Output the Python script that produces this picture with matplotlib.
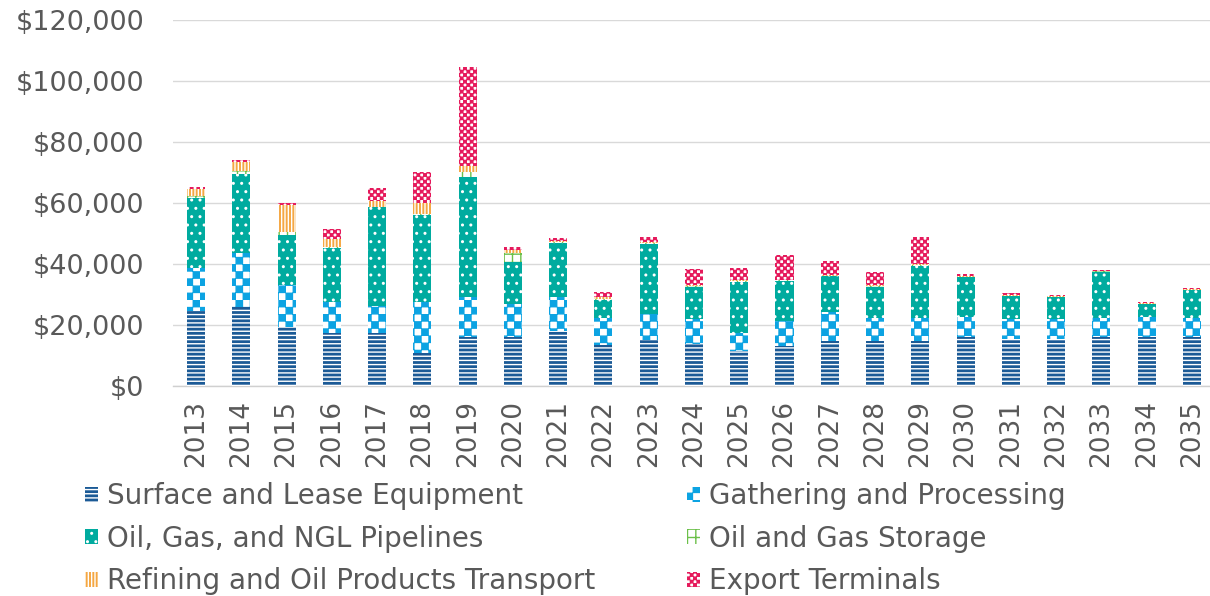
import numpy as np
import matplotlib
matplotlib.use("Agg")
import matplotlib.pyplot as plt
from matplotlib import hatch as mhatch
from matplotlib.path import Path
from matplotlib.patches import Patch

# ---------------- data ----------------
years = [str(y) for y in range(2013, 2036)]
surface = [24600, 25800, 19400, 17300, 17500, 10700, 16200, 16000, 18100, 13400, 15100, 13800,
           11500, 13100, 14900, 14900, 14900, 16000, 15300, 15300, 16000, 16200, 16200]
gathering = [14200, 17700, 13700, 10300, 8800, 16900, 12900, 10800, 11200, 8800, 8400, 8200,
             5800, 8200, 9500, 7300, 7300, 6500, 6600, 6600, 6200, 6500, 6000]
pipelines = [22700, 26000, 16400, 17500, 32300, 28500, 39500, 14000, 17700, 6000, 23100, 10600,
             16900, 13200, 11700, 10400, 17300, 13300, 7600, 7200, 15300, 4200, 9300]
storage = [700, 1000, 1000, 400, 200, 300, 1600, 2700, 200, 200, 200, 200,
           100, 100, 100, 100, 100, 100, 100, 100, 100, 100, 100]
refining = [2400, 3000, 8900, 2600, 2000, 3500, 1900, 1000, 500, 800, 400, 300,
            300, 300, 300, 300, 300, 300, 300, 300, 200, 200, 200]
export = [600, 600, 700, 3400, 4000, 10400, 32400, 1000, 700, 1700, 1800, 5200,
          4000, 8200, 4400, 4500, 9100, 600, 500, 500, 200, 500, 300]

labels = ["Surface and Lease Equipment", "Gathering and Processing",
          "Oil, Gas, and NGL Pipelines", "Oil and Gas Storage",
          "Refining and Oil Products Transport", "Export Terminals"]
yticks = [0, 20000, 40000, 60000, 80000, 100000, 120000]

HATCH_LW = 1.0  # points
plt.rcParams['hatch.linewidth'] = HATCH_LW


# ---------------- custom checkerboard hatch (uses the 'O' character) ----------------
class CheckerHatch(mhatch.HatchPatternBase):
    def __init__(self, hatch, density):
        self.n = hatch.count('O')
        self.num_vertices = 2 * self.n * self.n * 5

    def set_vertices_and_codes(self, vertices, codes):
        n = self.n
        c = 1.0 / (2 * n)
        shrink = 0.6 * plt.rcParams['hatch.linewidth'] / 72.0  # partly offset stroke width
        a, b = shrink / 2, c - shrink / 2
        sq = np.array([[a, a], [b, a], [b, b], [a, b], [a, a]], dtype=float)
        parts = []
        for i in range(n):
            for j in range(n):
                parts.append(sq + [2 * i * c, 2 * j * c])
                parts.append(sq + [(2 * i + 1) * c, (2 * j + 1) * c])
        vertices[:] = np.concatenate(parts)
        codes[:] = np.tile([Path.MOVETO, Path.LINETO, Path.LINETO, Path.LINETO,
                            Path.CLOSEPOLY], 2 * n * n)


mhatch._hatch_types = [t for t in mhatch._hatch_types
                       if t is not mhatch.LargeCircles] + [CheckerHatch]

plt.rcParams['font.family'] = ['DejaVu Sans']

TEXT = '#595959'
styles = [
    dict(facecolor='#1b5a96', edgecolor='white', hatch='----'),
    dict(facecolor='white', edgecolor='#0ca3e2', hatch='O' * 7),
    dict(facecolor='#00ab9f', edgecolor='white', hatch='..'),
    dict(facecolor='white', edgecolor='#6cc04a', hatch='++'),
    dict(facecolor='#f5a742', edgecolor='white', hatch='|||||'),
    dict(facecolor='white', edgecolor='#e5195b', hatch='O' * 15),
]
series = [surface, gathering, pipelines, storage, refining, export]

W, H = 1210, 596
fig = plt.figure(figsize=(W / 100, H / 100), dpi=100)
ax = fig.add_axes([173.4 / W, (H - 386) / H, (W - 173.4) / W, 366 / H])

x = np.arange(len(years))
bottom = np.zeros(len(years))
for vals, st in zip(series, styles):
    ax.bar(x, vals, width=0.40, bottom=bottom, linewidth=0, zorder=3, **st)
    bottom += np.array(vals)

ax.set_xlim(-0.5, 22.4)
ax.set_ylim(0, 120000)
ax.set_yticks(yticks)
ax.set_yticklabels([f"${v:,.0f}" for v in yticks])
ax.set_xticks(x)
ax.set_xticklabels(years, rotation=90)
ax.tick_params(axis='both', length=0, labelsize=19, labelcolor=TEXT)
ax.tick_params(axis='y', labelsize=19.5, pad=21)
ax.tick_params(axis='x', pad=10)
ax.grid(axis='y', color='#d9d9d9', linewidth=1.0, zorder=0)
for s in ['top', 'right', 'left']:
    ax.spines[s].set_visible(False)
ax.spines['bottom'].set_color('#d0d0d0')
ax.spines['bottom'].set_linewidth(1.0)

order = [0, 2, 4, 1, 3, 5]
handles = [Patch(linewidth=0, **styles[i]) for i in order]
leg = fig.legend(handles, [labels[i] for i in order], ncol=2,
                 loc='upper left', bbox_to_anchor=(85 / W, 1 - 482 / H),
                 frameon=False, fontsize=20, handlelength=0.45, handleheight=0.45,
                 handletextpad=0.35, columnspacing=3.3, labelspacing=0.53,
                 borderaxespad=0, borderpad=0)
for t in leg.get_texts():
    t.set_color(TEXT)

fig.savefig('out.png', dpi=100)
